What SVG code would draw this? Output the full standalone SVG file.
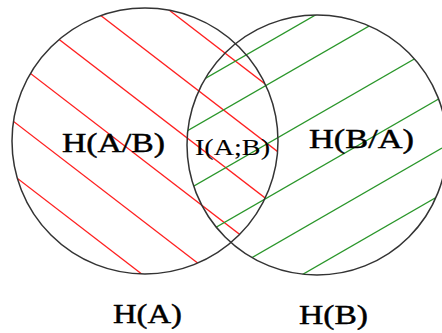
<svg xmlns="http://www.w3.org/2000/svg" width="442" height="333" viewBox="0 0 442 333">
<style>
.red{stroke:#ff2020;stroke-width:1.3;fill:none}
.green{stroke:#2a962a;stroke-width:1.3;fill:none}
.ring{fill:none;stroke:#333;stroke-width:1.5}
.lbl{font-family:"Liberation Serif","Times New Roman",serif;font-size:28px;fill:#000;stroke:#000;stroke-width:0.45}
.thin{font-size:24px;stroke-width:0.1}
</style>
<defs>
<clipPath id="clipA"><circle cx="145" cy="141" r="133"/></clipPath>
<clipPath id="clipB"><circle cx="317" cy="145" r="130"/></clipPath>
</defs>
<rect width="442" height="333" fill="#fff"/>
<g id="hatchA" clip-path="url(#clipA)">
<line class="red" x1="0" y1="-120" x2="442" y2="220"/>
<line class="red" x1="0" y1="-62" x2="442" y2="278"/>
<line class="red" x1="0" y1="-6" x2="442" y2="334"/>
<line class="red" x1="0" y1="50" x2="442" y2="390"/>
<line class="red" x1="0" y1="111" x2="442" y2="451"/>
<line class="red" x1="0" y1="165" x2="442" y2="505"/>
</g>
<g id="hatchB" clip-path="url(#clipB)">
<line class="green" x1="0" y1="197" x2="442" y2="-58"/>
<line class="green" x1="0" y1="239" x2="442" y2="-16"/>
<line class="green" x1="0" y1="298" x2="442" y2="43"/>
<line class="green" x1="0" y1="352" x2="442" y2="97"/>
<line class="green" x1="0" y1="403" x2="442" y2="148"/>
<line class="green" x1="0" y1="449" x2="442" y2="194"/>
</g>
<g id="setA">
<circle class="ring" cx="145" cy="141" r="133"/>
<text class="lbl" x="62" y="152" textLength="103" lengthAdjust="spacingAndGlyphs">H(A/B)</text>
<text class="lbl" x="113" y="323" textLength="69" lengthAdjust="spacingAndGlyphs">H(A)</text>
</g>
<g id="setB">
<circle class="ring" cx="317" cy="145" r="130"/>
<text class="lbl" x="309" y="148" textLength="105" lengthAdjust="spacingAndGlyphs">H(B/A)</text>
<text class="lbl" x="299" y="324" textLength="69" lengthAdjust="spacingAndGlyphs">H(B)</text>
</g>
<g id="intersection">
<text class="lbl thin" x="195" y="155" textLength="75" lengthAdjust="spacingAndGlyphs">I(A;B)</text>
</g>
<g id="connectors"/>
</svg>
